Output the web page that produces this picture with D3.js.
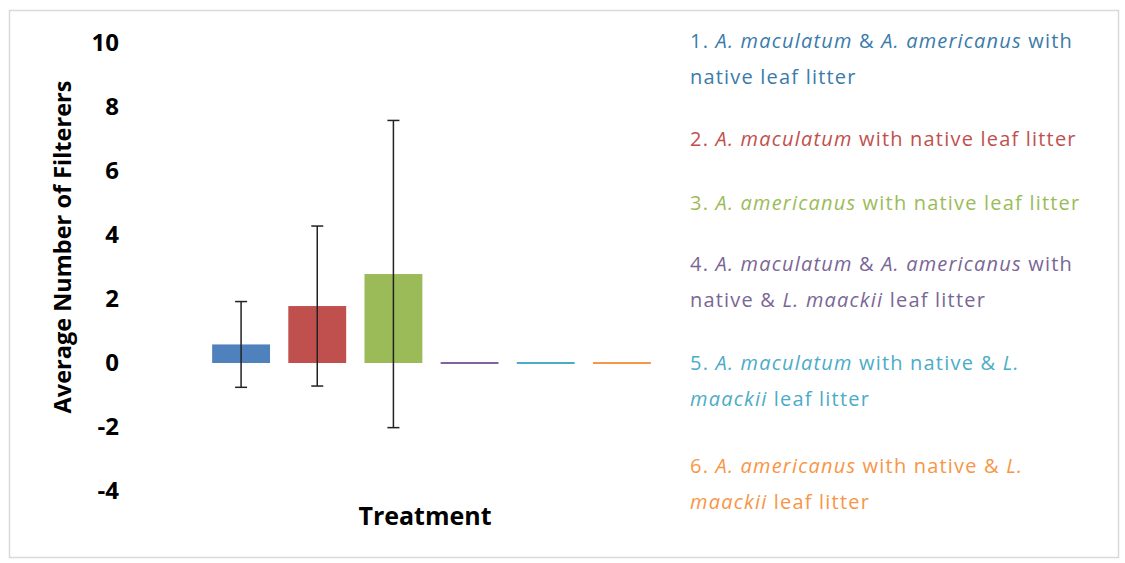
<!DOCTYPE html>
<html><head><meta charset="utf-8">
<script src="https://cdn.jsdelivr.net/npm/d3@7"></script>
<style>body{margin:0;background:#fff}svg{display:block}</style>
</head><body>
<script>
const categories = ["1","2","3","4","5","6"];
const means = [0.58, 1.78, 2.78, 0, 0, 0];
const errors = [1.34, 2.5, 4.8, 0, 0, 0];
const colors = ["#4F81BD","#C0504D","#9BBB59","#8064A2","#4BACC6","#F79646"];
const textColors = ["#3A7BAA","#C0504D","#9BBB59","#7A6696","#4BACC6","#F79646"];
const yTicks = [-4,-2,0,2,4,6,8,10];
// legend lines: [text, italic]
const legendItems = [
  [[["1. ",0],["A. maculatum",1],[" & ",0],["A. americanus",1],[" with",0]],[["native leaf litter",0]]],
  [[["2. ",0],["A. maculatum",1],[" with native leaf litter",0]]],
  [[["3. ",0],["A. americanus",1],[" with native leaf litter",0]]],
  [[["4. ",0],["A. maculatum",1],[" & ",0],["A. americanus",1],[" with",0]],[["native & ",0],["L. maackii",1],[" leaf litter",0]]],
  [[["5. ",0],["A. maculatum",1],[" with native & ",0],["L.",1]],[["maackii",1],[" leaf litter",0]]],
  [[["6. ",0],["A. americanus",1],[" with native & ",0],["L.",1]],[["maackii",1],[" leaf litter",0]]]
];
const legendY = [40, 138, 202, 263, 362, 465];

const W=1125,H=563;
const svg=d3.select("body").append("svg").attr("width",W).attr("height",H);
svg.append("rect").attr("x",9.5).attr("y",10.5).attr("width",1109).attr("height",547)
  .attr("fill","#fff").attr("stroke","#d9d9d9").attr("stroke-width",1.5);

const x=d3.scaleBand().domain(categories).range([203,660]).paddingInner(0.24).paddingOuter(0.12);
const y=d3.scaleLinear().domain([-4,10]).range([491,43]);

const font="'Open Sans', sans-serif";
const yAxis=d3.axisLeft(y).tickValues(yTicks).tickSize(0).tickPadding(0).tickFormat(d=>String(d));
const ga=svg.append("g").attr("transform","translate(119,0)").call(yAxis);
ga.select(".domain").remove();
ga.selectAll("text").attr("font-family",font).attr("font-weight","bold").attr("font-size",24).attr("fill","#000");

svg.append("text").attr("transform","translate(71,247) rotate(-90)").attr("text-anchor","middle")
  .attr("font-family",font).attr("font-weight","bold").attr("font-size",23.5).attr("fill","#000")
  .text("Average Number of Filterers");
svg.append("text").attr("x",425).attr("y",525).attr("text-anchor","middle")
  .attr("font-family",font).attr("font-weight","bold").attr("font-size",25).attr("fill","#000")
  .text("Treatment");

const g=svg.append("g");
g.selectAll("rect.bar").data(categories).join("rect").attr("class","bar")
  .attr("x",d=>x(d)).attr("width",x.bandwidth())
  .attr("y",(d,i)=>Math.min(y(means[i]),y(0)-1))
  .attr("height",(d,i)=>Math.max(2,Math.abs(y(0)-y(means[i]))))
  .attr("fill",(d,i)=>colors[i]);

const eb=g.selectAll("g.err").data(categories.filter((d,i)=>errors[i]>0)).join("g").attr("class","err")
  .attr("stroke","#222").attr("stroke-width",1.5);
eb.each(function(d){
  const i=categories.indexOf(d), cx=x(d)+x.bandwidth()/2;
  const s=d3.select(this), hi=y(means[i]+errors[i]), lo=y(means[i]-errors[i]);
  s.append("line").attr("x1",cx).attr("x2",cx).attr("y1",hi).attr("y2",lo);
  s.append("line").attr("x1",cx-6).attr("x2",cx+6).attr("y1",hi).attr("y2",hi);
  s.append("line").attr("x1",cx-6).attr("x2",cx+6).attr("y1",lo).attr("y2",lo);
});

const lg=svg.append("g").attr("font-family",font).attr("font-size",20).attr("letter-spacing",1.2);
legendItems.forEach((item,i)=>{
  item.forEach((line,j)=>{
    const t=lg.append("text").attr("x",690).attr("y",legendY[i]+j*36+8).attr("fill",textColors[i]);
    line.forEach(seg=>t.append("tspan").attr("font-style",seg[1]?"italic":"normal").text(seg[0]));
  });
});
</script>
</body></html>
